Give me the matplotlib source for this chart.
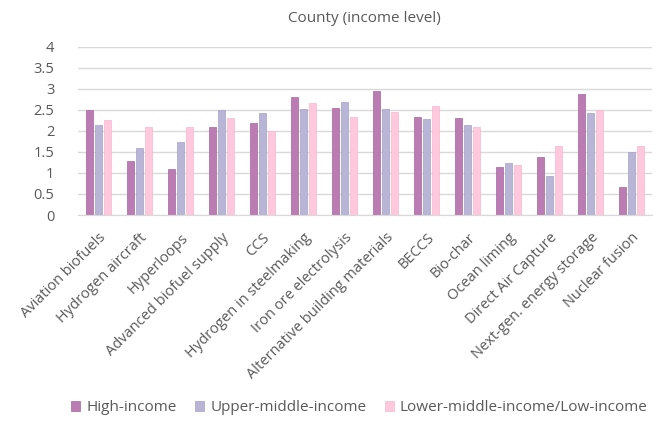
"""County (income level) grouped bars."""
import numpy as np
from matplotlib import pyplot as plt
from matplotlib import rcParams

rcParams["font.family"] = ["Open Sans", "DejaVu Sans"]
TEXT = "#595959"

categories = [
    "Aviation biofuels",
    "Hydrogen aircraft",
    "Hyperloops",
    "Advanced biofuel supply",
    "CCS",
    "Hydrogen in steelmaking",
    "Iron ore electrolysis",
    "Alternative building materials",
    "BECCS",
    "Bio-char",
    "Ocean liming",
    "Direct Air Capture",
    "Next-gen. energy storage",
    "Nuclear fusion",
]
series_names = ["High-income", "Upper-middle-income", "Lower-middle-income/Low-income"]
high = [2.49, 1.28, 1.09, 2.08, 2.19, 2.80, 2.55, 2.94, 2.33, 2.30, 1.14, 1.39, 2.88, 0.66]
upper = [2.14, 1.59, 1.73, 2.50, 2.42, 2.52, 2.69, 2.53, 2.27, 2.13, 1.24, 0.93, 2.42, 1.49]
lower = [2.26, 2.10, 2.08, 2.31, 2.00, 2.65, 2.32, 2.44, 2.58, 2.09, 1.18, 1.64, 2.50, 1.64]
colors = ["#bb7cb4", "#b8b5d7", "#ffc8dd"]
edges = ["#a8649f", "#a3a0c8", "#f7b6cf"]

fig = plt.figure(figsize=(6.57, 4.29), dpi=100)
ax = fig.add_axes([0.1187, 0.4988, 0.8737, 0.3924])

x = np.arange(len(categories))
step, width = 0.227, 0.17
for i, (vals, name) in enumerate(zip([high, upper, lower], series_names)):
    ax.bar(
        x + (i - 1) * step,
        vals,
        width=width,
        color=colors[i],
        edgecolor=edges[i],
        linewidth=0.5,
        label=name,
        zorder=2,
    )

ax.set_xlim(-0.5, len(categories) - 0.5)
ax.set_ylim(0, 4)
ax.set_yticks(np.arange(0, 4.01, 0.5))
ax.set_yticklabels(["0", "0.5", "1", "1.5", "2", "2.5", "3", "3.5", "4"])
ax.yaxis.grid(True, color="#d9d9d9", lw=1, zorder=0)
ax.set_axisbelow(True)
for s in ("top", "right", "left"):
    ax.spines[s].set_visible(False)
ax.spines["bottom"].set_color("#d9d9d9")
ax.tick_params(axis="both", length=0, colors=TEXT, labelsize=10.5)
ax.tick_params(axis="y", pad=17)
ax.set_xticks(x)
ax.set_xticklabels(categories, rotation=45, ha="right", rotation_mode="anchor", fontsize=10.5)
ax.tick_params(axis="x", pad=11)

fig.suptitle("County (income level)", x=0.555, y=0.975, color=TEXT, fontsize=11)
fig.legend(
    loc="lower center",
    bbox_to_anchor=(0.547, 0.0),
    ncol=3,
    frameon=False,
    fontsize=11,
    labelcolor=TEXT,
    handlelength=0.6,
    handleheight=0.6,
    handletextpad=0.4,
    columnspacing=1.2,
)
fig.savefig("out.png", dpi=100)
